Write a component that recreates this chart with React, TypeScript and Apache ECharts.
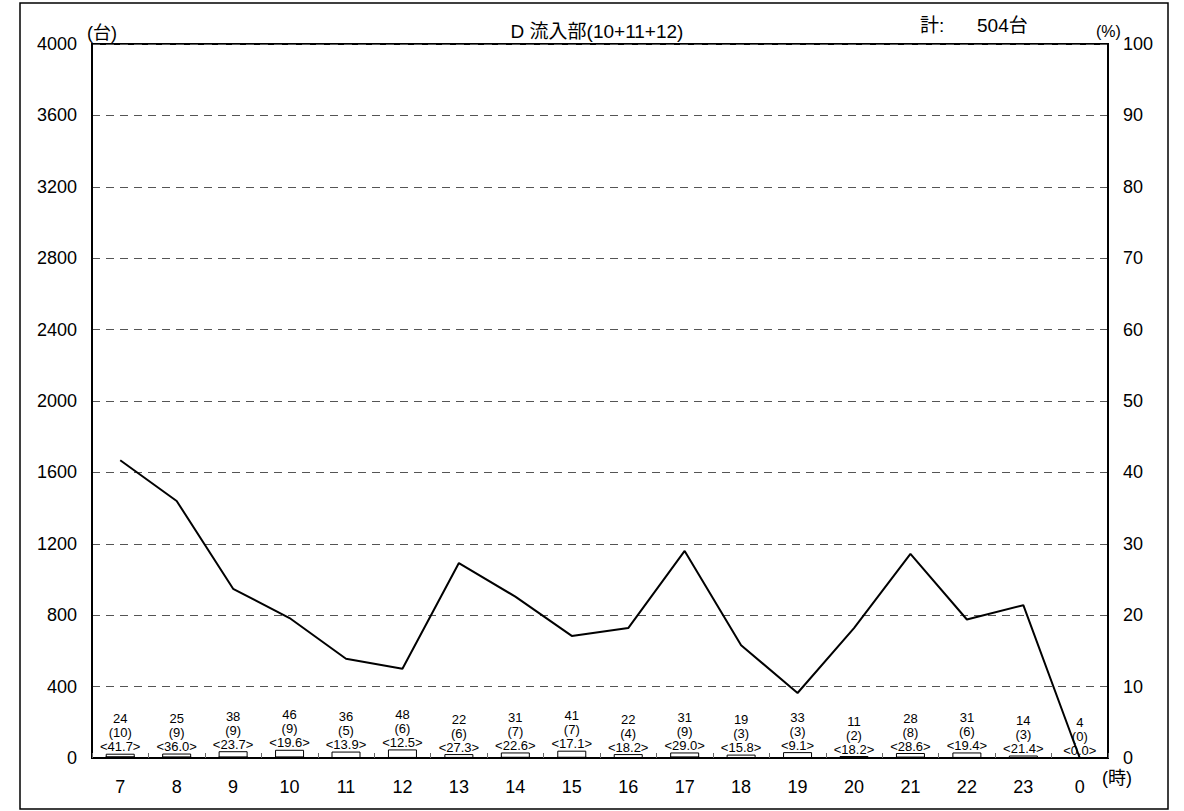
import React, { useEffect, useRef } from "react";
import * as echarts from "echarts";

const hours = ["7", "8", "9", "10", "11", "12", "13", "14", "15", "16", "17", "18", "19", "20", "21", "22", "23", "0"];
const totals = [24, 25, 38, 46, 36, 48, 22, 31, 41, 22, 31, 19, 33, 11, 28, 31, 14, 4];
const large = [10, 9, 9, 9, 5, 6, 6, 7, 7, 4, 9, 3, 3, 2, 8, 6, 3, 0];
const ratios = ["41.7", "36.0", "23.7", "19.6", "13.9", "12.5", "27.3", "22.6", "17.1", "18.2", "29.0", "15.8", "9.1", "18.2", "28.6", "19.4", "21.4", "0.0"];
const leftTicks = [0, 400, 800, 1200, 1600, 2000, 2400, 2800, 3200, 3600, 4000];
const rightTicks = [0, 10, 20, 30, 40, 50, 60, 70, 80, 90, 100];
const title = "D 流入部(10+11+12)";
const totalLabel = "計:";
const totalValue = "504台";

const FONT = "'Liberation Sans', 'Noto Sans CJK JP', Arial, sans-serif";

export default function App() {
  const ref = useRef<HTMLDivElement>(null);
  useEffect(() => {
    const chart = echarts.init(ref.current!, null, { renderer: "svg" });
    const txt = (x: number, y: number, text: string, fontSize: number, align = "left") => ({
      type: "text",
      x,
      y,
      style: { text, fontSize, fontFamily: FONT, fill: "#000", align, verticalAlign: "middle" },
    });
    chart.setOption({
      animation: false,
      textStyle: { fontFamily: FONT, color: "#000" },
      grid: { left: 92, right: 76, top: 44, bottom: 53, show: true, borderColor: "#000", borderWidth: 2, backgroundColor: "transparent" },
      graphic: [
        { type: "rect", shape: { x: 20, y: 3, width: 1148, height: 806 }, style: { fill: "none", stroke: "#000", lineWidth: 1.5 }, z: -1 },
        txt(597, 31, title, 19, "center"),
        txt(920, 25, totalLabel, 19),
        txt(977, 25, totalValue, 19),
        txt(87, 33, "(台)", 18),
        txt(1096, 31, "(%)", 16),
        txt(1102, 778, "(時)", 18),
      ],
      xAxis: {
        type: "category",
        data: hours,
        boundaryGap: true,
        axisLine: { show: true, lineStyle: { color: "#000", width: 2 } },
        axisTick: { show: true, inside: true, length: 5, interval: 0, lineStyle: { color: "#666" } },
        axisLabel: { fontSize: 18, margin: 20, color: "#000", fontFamily: FONT, interval: 0 },
        splitLine: { show: false },
      },
      yAxis: [
        {
          type: "value",
          min: leftTicks[0],
          max: leftTicks[leftTicks.length - 1],
          interval: 400,
          position: "left",
          axisLine: { show: true, lineStyle: { color: "#000", width: 2 } },
          axisTick: { show: false },
          axisLabel: { fontSize: 18, margin: 15, color: "#000", fontFamily: FONT, formatter: (v: number) => String(v) },
          splitLine: { show: true, lineStyle: { color: "#555", type: [8, 6], width: 1 } },
        },
        {
          type: "value",
          min: rightTicks[0],
          max: rightTicks[rightTicks.length - 1],
          interval: 10,
          position: "right",
          axisLine: { show: true, lineStyle: { color: "#000", width: 2 } },
          axisTick: { show: false },
          axisLabel: { fontSize: 18, margin: 15, color: "#000", fontFamily: FONT, formatter: (v: number) => String(v) },
          splitLine: { show: false },
        },
      ],
      series: [
        {
          type: "bar",
          name: "total",
          data: totals,
          barWidth: 29,
          barGap: "-100%",
          itemStyle: { color: "#fff", borderColor: "#000", borderWidth: 1 },
          label: {
            show: true,
            position: "top",
            distance: 0,
            fontSize: 13,
            lineHeight: 14,
            color: "#000",
            fontFamily: FONT,
            formatter: (p: any) => `${totals[p.dataIndex]}\n(${large[p.dataIndex]})\n<${ratios[p.dataIndex]}>`,
          },
          z: 2,
        },
        {
          type: "bar",
          name: "large",
          data: large,
          barWidth: 29,
          itemStyle: { color: "#000" },
          z: 3,
        },
        {
          type: "line",
          yAxisIndex: 1,
          data: ratios.map(Number),
          symbol: "none",
          lineStyle: { color: "#000", width: 2 },
          z: 5,
        },
      ],
    });
    return () => chart.dispose();
  }, []);
  return <div ref={ref} style={{ position: "fixed", left: 0, top: 0, width: 1184, height: 811, background: "#fff" }} />;
}
